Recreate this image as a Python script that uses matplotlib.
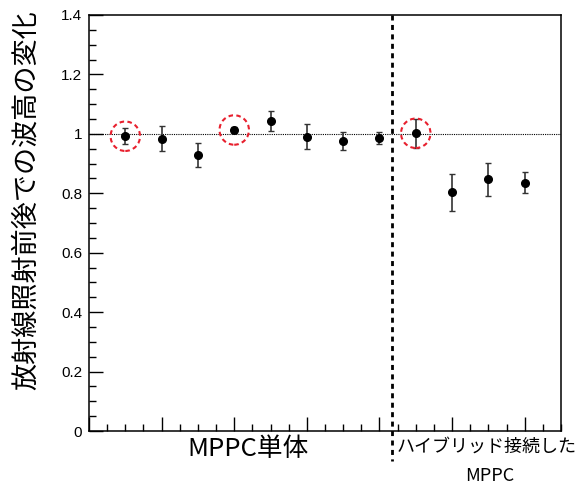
import matplotlib.pyplot as plt
import numpy as np
from matplotlib.ticker import MultipleLocator

# data
sample = np.arange(1, 13)
ratio = [0.992, 0.983, 0.928, 1.013, 1.044, 0.991, 0.976, 0.986, 1.002, 0.803, 0.847, 0.836]
ratio_err = [0.027, 0.042, 0.041, 0.010, 0.033, 0.042, 0.030, 0.019, 0.049, 0.061, 0.056, 0.036]
marked = [1, 4, 9]
split_x = 8.35

jp = ['Noto Sans CJK JP', 'DejaVu Sans']
plt.rcParams['font.family'] = ['Liberation Sans', 'DejaVu Sans']

fig = plt.figure(figsize=(5.86, 4.86), dpi=100)
ax = fig.add_axes([89 / 586, 1 - 431 / 486, 472 / 586, 416 / 486])

ax.axhline(1.0, color='black', lw=0.8, ls=(0, (1, 1)), zorder=1)
ax.errorbar(sample, ratio, yerr=ratio_err, fmt='o', color='black', ms=5.5,
            ecolor='#333333', elinewidth=1.2, capsize=2.5, capthick=1, zorder=3)

mk = [i - 1 for i in marked]
ax.scatter(sample[mk], [ratio[i] for i in mk], s=450, facecolors='none',
           edgecolors='#e8202e', linestyle=(0, (2.2, 1.6)), linewidths=1.5, zorder=4)

ax.plot([split_x, split_x], [1.4, -0.1], color='black', lw=2, ls=(0, (1.8, 1.6)),
        clip_on=False, zorder=5)

ax.set_xlim(0, 13)
ax.set_ylim(0, 1.4)
ax.xaxis.set_major_locator(MultipleLocator(2))
ax.xaxis.set_minor_locator(MultipleLocator(0.5))
ax.yaxis.set_major_locator(MultipleLocator(0.2))
ax.yaxis.set_minor_locator(MultipleLocator(0.05))
ax.set_xticklabels([])
ax.set_yticks(np.arange(0, 1.41, 0.2))
ax.set_yticklabels(['0', '0.2', '0.4', '0.6', '0.8', '1', '1.2', '1.4'], fontsize=11)
ax.tick_params(axis='both', which='major', direction='in', length=10, width=1)
ax.tick_params(axis='both', which='minor', direction='in', length=5, width=1)
ax.tick_params(axis='y', pad=5)
for s in ax.spines.values():
    s.set_linewidth(1.1)

ax.set_ylabel('放射線照射前後での波高の変化', family=jp, fontsize=19.5)
ax.yaxis.set_label_coords(-0.104, 0.555)

fig.text(248 / 586, 1 - 449 / 486, 'MPPC単体', family=jp, fontsize=18.5,
         ha='center', va='center')
fig.text(397 / 586, 1 - 447 / 486, 'ハイブリッド接続した', family=jp, fontsize=13,
         ha='left', va='center')
fig.text(490 / 586, 1 - 476 / 486, 'MPPC', family=jp, fontsize=13,
         ha='center', va='center')

fig.savefig('out.png', dpi=100)
